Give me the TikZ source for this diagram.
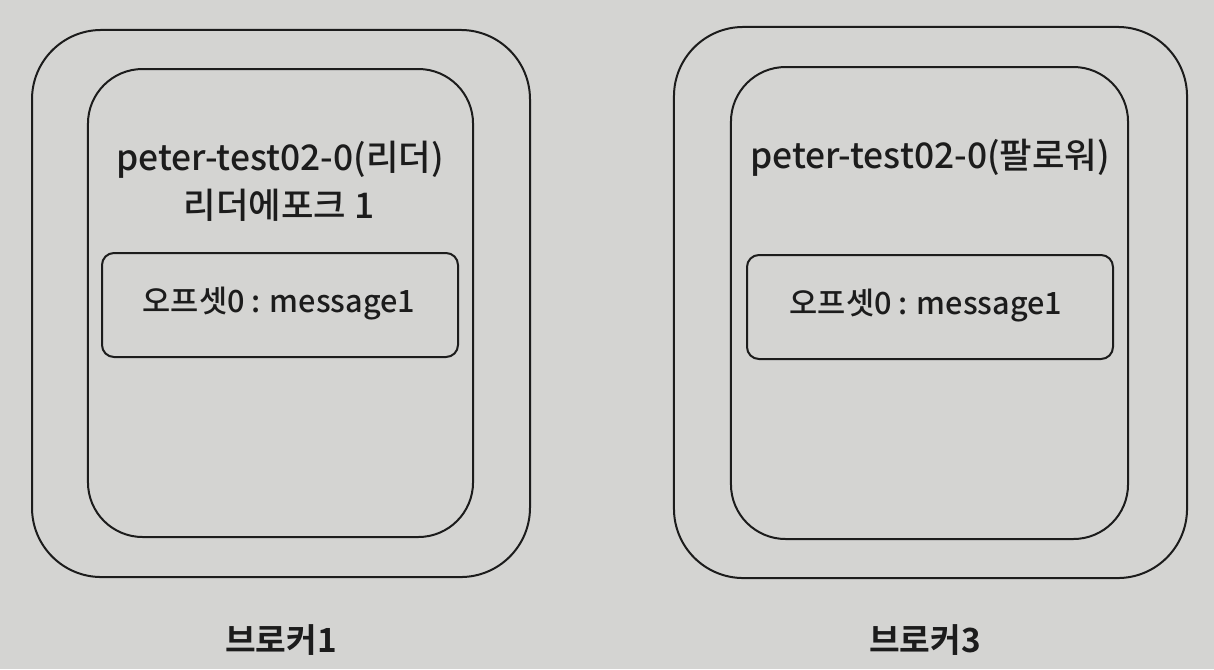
\documentclass[tikz,border=0pt]{standalone}
\usepackage{fontspec}
\setmainfont{Noto Sans CJK KR}[UprightFont=* Medium, BoldFont=* Bold]
\definecolor{paper}{RGB}{212,212,210}
\definecolor{ink}{RGB}{28,28,28}
\tikzset{
  box/.style={draw=ink, line width=1.5pt, rectangle, inner sep=0pt},
  outerbox/.style={box, rounded corners=52pt},
  innerbox/.style={box, rounded corners=41pt},
  msgbox/.style={box, rounded corners=9pt},
  txt/.style={text=ink, font=\fontsize{26.5}{31}\selectfont, inner sep=0pt},
  msgtxt/.style={text=ink, font=\fontsize{23}{27}\selectfont, inner sep=0pt},
  lbl/.style={text=ink, font=\bfseries\fontsize{25}{29}\selectfont, inner sep=0pt}
}
\begin{document}
\begin{tikzpicture}[x=0.75pt,y=-0.75pt]
\fill[paper] (0,0) rectangle (1214,669);
\useasboundingbox (0,0) rectangle (1214,669);
% broker 1
\node[outerbox, minimum width=373.5pt, minimum height=410.3pt] (o1) at (281,303.5) {};
\node[innerbox, minimum width=288.8pt, minimum height=351pt] (i1) at (280.5,303) {};
\node[msgbox, minimum width=267pt, minimum height=78pt] (m1) at (280,305) {};
\node[txt] (t1) at (280,160) {peter-test02-0(리더)};
\node[txt] (e1) at (279,205) {리더에포크 1};
\node[msgtxt] (s1) at (279,304) {오프셋0 : message1};
\node[lbl] (b1) at (281,640) {브로커1};
% broker 3
\node[outerbox, minimum width=384.8pt, minimum height=413.3pt] (o3) at (930.5,302.5) {};
\node[innerbox, minimum width=297.8pt, minimum height=354pt] (i3) at (929.5,303) {};
\node[msgbox, minimum width=274.5pt, minimum height=78pt] (m3) at (930,307) {};
\node[txt] (t3) at (930,158) {peter-test02-0(팔로워)};
\node[msgtxt] (s3) at (926,306) {오프셋0 : message1};
\node[lbl] (b3) at (925,640) {브로커3};
\end{tikzpicture}
\end{document}
